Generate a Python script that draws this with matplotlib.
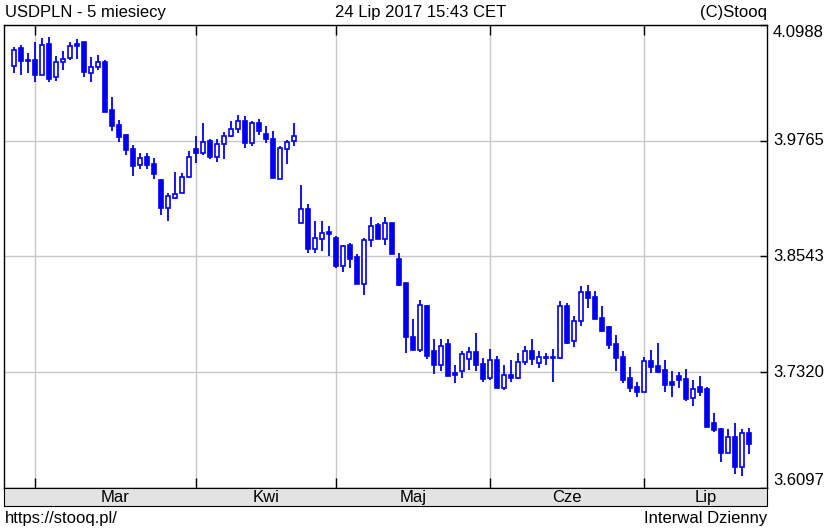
import numpy as np
import matplotlib
matplotlib.use("Agg")
import matplotlib.pyplot as plt
import matplotlib.transforms as mtransforms

plt.rcParams['font.family'] = ['Liberation Sans', 'DejaVu Sans']

# USDPLN daily candles, 24 Feb - 24 Jul 2017
opens = [4.0557, 4.0741, 4.0607, 4.0617, 4.0459, 4.0787, 4.0434, 4.0593, 4.0635, 4.0787,
         4.0805, 4.0480, 4.0540, 4.0600, 4.0088, 3.9933, 3.9827, 3.9675, 3.9506, 3.9598,
         3.9516, 3.9350, 3.9058, 3.9164, 3.9209, 3.9382, 3.9675, 3.9633, 3.9763, 3.9598,
         3.9736, 3.9816, 3.9887, 3.9975, 3.9739, 3.9951, 3.9834, 3.9789, 3.9365, 3.9683,
         3.9763, 3.8899, 3.9040, 3.8617, 3.8730, 3.8800, 3.8740, 3.8447, 3.8659, 3.8539,
         3.8257, 3.8715, 3.8871, 3.8730, 3.8899, 3.8518, 3.8264, 3.7692, 3.7550, 3.8024,
         3.7540, 3.7399, 3.7621, 3.7311, 3.7328, 3.7459, 3.7529, 3.7410, 3.7258, 3.7452,
         3.7152, 3.7293, 3.7258, 3.7423, 3.7540, 3.7417, 3.7470, 3.7470, 3.7470, 3.8024,
         3.7646, 3.7857, 3.8164, 3.8116, 3.7893, 3.7798, 3.7621, 3.7481, 3.7258, 3.7169,
         3.7116, 3.7434, 3.7388, 3.7339, 3.7222, 3.7283, 3.7248, 3.7047, 3.7163, 3.7142,
         3.6782, 3.6718, 3.6471, 3.6640, 3.6322, 3.6682]
highs = [4.0752, 4.0779, 4.0688, 4.0805, 4.0850, 4.0864, 4.0663, 4.0716, 4.0805, 4.0840,
         4.0805, 4.0646, 4.0674, 4.0617, 4.0229, 3.9985, 3.9841, 3.9718, 3.9640, 3.9640,
         3.9587, 3.9365, 3.9217, 3.9435, 3.9421, 3.9657, 3.9816, 3.9951, 3.9789, 3.9781,
         3.9858, 3.9975, 4.0035, 4.0028, 3.9975, 3.9993, 3.9922, 3.9869, 3.9710, 3.9774,
         3.9958, 3.9294, 3.9093, 3.8916, 3.8916, 3.8863, 3.8757, 3.8669, 3.8687, 3.8564,
         3.8740, 3.8963, 3.8892, 3.8963, 3.8899, 3.8582, 3.8264, 3.7883, 3.8080, 3.8034,
         3.7671, 3.7671, 3.7671, 3.7399, 3.7540, 3.7586, 3.7735, 3.7470, 3.7565, 3.7487,
         3.7399, 3.7452, 3.7523, 3.7593, 3.7671, 3.7540, 3.7523, 3.7565, 3.8069, 3.8052,
         3.7910, 3.8235, 3.8246, 3.8175, 3.8024, 3.7812, 3.7717, 3.7540, 3.7375, 3.7222,
         3.7481, 3.7550, 3.7629, 3.7452, 3.7328, 3.7318, 3.7354, 3.7240, 3.7275, 3.7163,
         3.6888, 3.6729, 3.6718, 3.6782, 3.6718, 3.6729]
lows = [4.0477, 4.0459, 4.0477, 4.0381, 4.0459, 4.0381, 4.0392, 4.0512, 4.0617, 4.0628,
        4.0441, 4.0381, 4.0512, 4.0064, 3.9869, 3.9757, 3.9615, 3.9395, 3.9471, 3.9464,
        3.9365, 3.8977, 3.8916, 3.9153, 3.9209, 3.9376, 3.9527, 3.9612, 3.9569, 3.9541,
        3.9569, 3.9810, 3.9852, 3.9693, 3.9710, 3.9823, 3.9746, 3.9376, 3.9365, 3.9516,
        3.9710, 3.8899, 3.8582, 3.8582, 3.8599, 3.8553, 3.8423, 3.8376, 3.8423, 3.8257,
        3.8140, 3.8645, 3.8730, 3.8659, 3.8564, 3.8228, 3.7523, 3.7550, 3.7529, 3.7459,
        3.7304, 3.7328, 3.7283, 3.7205, 3.7258, 3.7346, 3.7328, 3.7222, 3.7233, 3.7152,
        3.7134, 3.7222, 3.7248, 3.7399, 3.7399, 3.7364, 3.7399, 3.7222, 3.7459, 3.7621,
        3.7586, 3.7812, 3.7999, 3.7883, 3.7741, 3.7565, 3.7328, 3.7205, 3.7116, 3.7057,
        3.7106, 3.7311, 3.7311, 3.7116, 3.7057, 3.7152, 3.7021, 3.6965, 3.7071, 3.6739,
        3.6693, 3.6375, 3.6471, 3.6245, 3.6224, 3.6457]
closes = [4.0723, 4.0604, 4.0612, 4.0459, 4.0779, 4.0416, 4.0593, 4.0628, 4.0769, 4.0766,
          4.0487, 4.0547, 4.0593, 4.0064, 3.9922, 3.9810, 3.9670, 3.9501, 3.9587, 3.9506,
          3.9411, 3.9058, 3.9181, 3.9206, 3.9386, 3.9594, 3.9633, 3.9752, 3.9598, 3.9736,
          3.9816, 3.9894, 3.9969, 3.9746, 3.9951, 3.9869, 3.9789, 3.9376, 3.9693, 3.9752,
          3.9816, 3.9040, 3.8617, 3.8740, 3.8793, 3.8775, 3.8447, 3.8651, 3.8518, 3.8257,
          3.8722, 3.8863, 3.8730, 3.8892, 3.8564, 3.8246, 3.7692, 3.7550, 3.8034, 3.7487,
          3.7399, 3.7600, 3.7283, 3.7293, 3.7516, 3.7529, 3.7399, 3.7248, 3.7452, 3.7152,
          3.7293, 3.7258, 3.7423, 3.7540, 3.7459, 3.7481, 3.7478, 3.7478, 3.8024, 3.7629,
          3.7865, 3.8164, 3.8105, 3.7883, 3.7752, 3.7611, 3.7470, 3.7233, 3.7152, 3.7116,
          3.7434, 3.7375, 3.7318, 3.7187, 3.7187, 3.7233, 3.7036, 3.7142, 3.7116, 3.6739,
          3.6711, 3.6471, 3.6634, 3.6322, 3.6682, 3.6563]

# trading days per month: Feb (partial), Mar, Apr, May, Jun, Jul (partial)
days_per_month = [3, 23, 20, 22, 22, 16]
month_names = ['Mar', 'Kwi', 'Maj', 'Cze', 'Lip']
y_ticks = [3.6097, 3.7320, 3.8543, 3.9765, 4.0988]

blue = '#0000f0'
W, H = 826, 531

fig = plt.figure(figsize=(W / 100, H / 100), dpi=100)
ax = fig.add_axes([4 / W, 1 - 488 / H, 763 / W, 463 / H])
bar_ax = fig.add_axes([4 / W, 1 - 506 / H, 763 / W, 18 / H], sharex=ax)

o = np.array(opens)
c = np.array(closes)
x = np.arange(len(o))
up = c >= o

# wicks first, bodies on top
ax.vlines(x, lows, highs, color=blue, linewidth=1.3, zorder=2)
body_bottom = np.minimum(o, c)
body_height = np.maximum(np.abs(c - o), 0.0006)
ax.bar(x[up], body_height[up], bottom=body_bottom[up], width=0.62,
       facecolor='white', edgecolor=blue, linewidth=1.2, zorder=3)
ax.bar(x[~up], body_height[~up], bottom=body_bottom[~up], width=0.62,
       facecolor=blue, edgecolor=blue, linewidth=1.2, zorder=3)

month_starts = np.cumsum(days_per_month)[:-1]
xmin, xmax = -10 / 7, 753 / 7
ax.set_xlim(xmin, xmax)
ax.set_ylim(y_ticks[0], y_ticks[-1])

ax.set_xticks(month_starts)
ax.set_yticks(y_ticks)
ax.grid(True, color='#c8c8c8', linewidth=1)
ax.set_axisbelow(True)
ax.tick_params(axis='x', direction='in', length=7, top=True, bottom=True,
               labelbottom=False, width=1)
ax.tick_params(axis='y', direction='in', length=5, left=False, right=True,
               labelleft=False, width=1)
for s in ax.spines.values():
    s.set_linewidth(1)

# price labels to the right of the frame
trans = mtransforms.blended_transform_factory(fig.transFigure, ax.transData)
for i, v in enumerate(y_ticks):
    va = 'center'
    if i == 0:
        va = 'bottom'
    elif i == len(y_ticks) - 1:
        va = 'top'
    ax.text(773 / W, v, f'{v:.4f}', transform=trans, ha='left', va=va,
            fontsize=12, clip_on=False)

# month bar
bar_ax.set_facecolor('#e3e3e3')
bar_ax.set_yticks([])
bar_ax.tick_params(axis='x', length=0, labelbottom=False)
bar_ax.set_ylim(0, 1)
bounds = list(month_starts) + [xmax]
for name, a, b in zip(month_names, bounds[:-1], bounds[1:]):
    bar_ax.text((a + b) / 2, 0.45, name, ha='center', va='center', fontsize=12)

fig.text(5 / W, 1 - 13 / H, 'USDPLN - 5 miesiecy', ha='left', va='center', fontsize=12)
fig.text(421 / W, 1 - 13 / H, '24 Lip 2017 15:43 CET', ha='center', va='center', fontsize=12)
fig.text(767 / W, 1 - 13 / H, '(C)Stooq', ha='right', va='center', fontsize=12)
fig.text(5 / W, 1 - 518 / H, 'https://stooq.pl/', ha='left', va='center', fontsize=12)
fig.text(767 / W, 1 - 518 / H, 'Interwal Dzienny', ha='right', va='center', fontsize=12)

fig.savefig('out.png', dpi=100, facecolor='white')
